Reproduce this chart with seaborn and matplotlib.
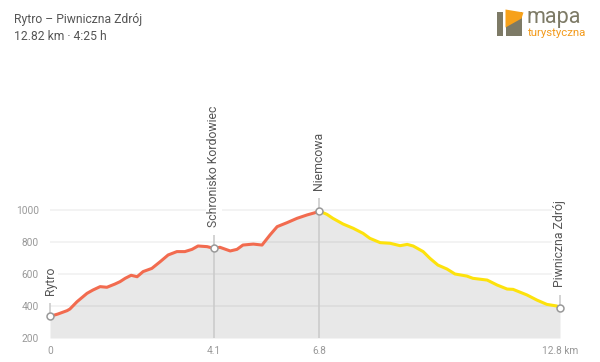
import numpy as np
import pandas as pd
import matplotlib
matplotlib.use("Agg")
import matplotlib.pyplot as plt
from matplotlib.patches import Rectangle, Polygon
import seaborn as sns

# elevation profile (km, m a.s.l.)
distance_km = [0.00, 0.20, 0.43, 0.50, 0.68, 0.93, 1.08, 1.26, 1.43, 1.63, 1.76, 1.89,
               2.04, 2.19, 2.34, 2.56, 2.77, 2.97, 3.19, 3.39, 3.57, 3.72, 3.95, 4.12,
               4.27, 4.53, 4.70, 4.85, 5.11, 5.33, 5.53, 5.71, 5.96, 6.21, 6.46, 6.66,
               6.76, 6.96, 7.11, 7.37, 7.62, 7.87, 8.04, 8.30, 8.55, 8.80, 8.98, 9.13,
               9.38, 9.55, 9.75, 9.98, 10.18, 10.48, 10.63, 10.99, 11.24, 11.49, 11.64,
               11.99, 12.24, 12.49, 12.74, 12.82]
elevation_m = [335, 350, 371, 381, 427, 479, 500, 521, 517, 537, 552, 573,
               592, 583, 615, 635, 677, 719, 740, 740, 754, 775, 771, 760,
               767, 744, 754, 781, 787, 781, 844, 896, 921, 948, 969, 983,
               994, 973, 948, 912, 886, 854, 823, 796, 792, 777, 785, 775,
               740, 698, 656, 631, 600, 587, 573, 562, 531, 506, 504,
               469, 437, 410, 400, 385]

waypoint_names = ["Rytro", "Schronisko Kordowiec", "Niemcowa", "Piwniczna Zdrój"]
waypoint_km = [0.00, 4.12, 6.76, 12.82]
waypoint_elev = [335, 760, 994, 385]

color_split_km = 6.76
xtick_labels = ["0", "4.1", "6.8", "12.8 km"]
ytick_values = [200, 400, 600, 800, 1000]

title = "Rytro – Piwniczna Zdrój"
subtitle = "12.82 km · 4:25 h"

sns.set_theme(style="white")
plt.rcParams["font.family"] = ["Roboto", "DejaVu Sans"]

df = pd.DataFrame({"km": distance_km, "elev": elevation_m})
part_a = df[df.km <= color_split_km].assign(part="a")
part_b = df[df.km >= color_split_km].assign(part="b")
segments = pd.concat([part_a, part_b], ignore_index=True)

fig = plt.figure(figsize=(6, 3.62), dpi=100)
W, H = 600, 362
ax = fig.add_axes([50 / W, 1 - 338 / H, 510 / W, 238 / H])
ymin = 200
ax.set_xlim(0, 12.82)
ax.set_ylim(ymin, ymin + 238 / 0.16)

ax.fill_between(df.km, df.elev, ymin, color="#e8e8e8", lw=0, zorder=1)
for y in ytick_values[1:]:
    ax.axhline(y, color="black", alpha=0.055, lw=1.2, zorder=2)

sns.lineplot(data=segments, x="km", y="elev", hue="part",
             palette={"a": "#f26b4f", "b": "#fde20c"}, lw=2.2,
             legend=False, ax=ax, zorder=4, sort=False)

for i, (name, km, el) in enumerate(zip(waypoint_names, waypoint_km, waypoint_elev)):
    top = el + 13 / 0.16
    bottom = el if i in (0, len(waypoint_names) - 1) else ymin
    ax.plot([km, km], [bottom, top], color="#cccccc", lw=1.2, zorder=3,
            solid_capstyle="butt", clip_on=False)
    ax.plot(km, el, "o", ms=5, mfc="white", mec="#999999", mew=1.1,
            zorder=5, clip_on=False)
    ax.text(km, el + 21 / 0.16, name, rotation=90, ha="center", va="bottom",
            fontsize=8.8, color="#555555", zorder=6,
            bbox=dict(boxstyle="square,pad=0.1", fc="white", ec="none"))

ax.set_yticks(ytick_values)
ax.set_yticklabels([str(v) for v in ytick_values])
ax.set_xticks(waypoint_km)
ax.set_xticklabels(xtick_labels)
ax.tick_params(axis="both", length=0, labelsize=7.3, labelcolor="#999999")
ax.tick_params(axis="y", pad=8)
ax.tick_params(axis="x", pad=6)
ax.set_xlabel("")
ax.set_ylabel("")
sns.despine(ax=ax, left=True, bottom=True)

fig.text(14 / W, 1 - 19 / H, title, fontsize=8.7, color="#555555", va="center")
fig.text(14 / W, 1 - 36 / H, subtitle, fontsize=8.7, color="#555555", va="center")

# logo
lax = fig.add_axes([0, 0, 1, 1], zorder=-1)
lax.set_xlim(0, W)
lax.set_ylim(H, 0)
lax.axis("off")
lax.add_patch(Rectangle((497, 12), 25, 24, fc="#7d7a66", ec="none"))
lax.add_patch(Rectangle((503, 12), 2.7, 24, fc="white", ec="none"))
lax.add_patch(Polygon([(505.5, 9.5), (523.5, 12.5), (521.5, 18.5), (505.5, 27.5)],
                      closed=True, fc="#f7a11a", ec="none"))
lax.text(527, 23.5, "mapa", fontsize=15.5, color="#7d7a66", va="baseline")
lax.text(527.5, 36.5, "turystyczna", fontsize=8.2, color="#f39a1a", va="baseline")

fig.savefig("out.png", dpi=100, facecolor="white")
